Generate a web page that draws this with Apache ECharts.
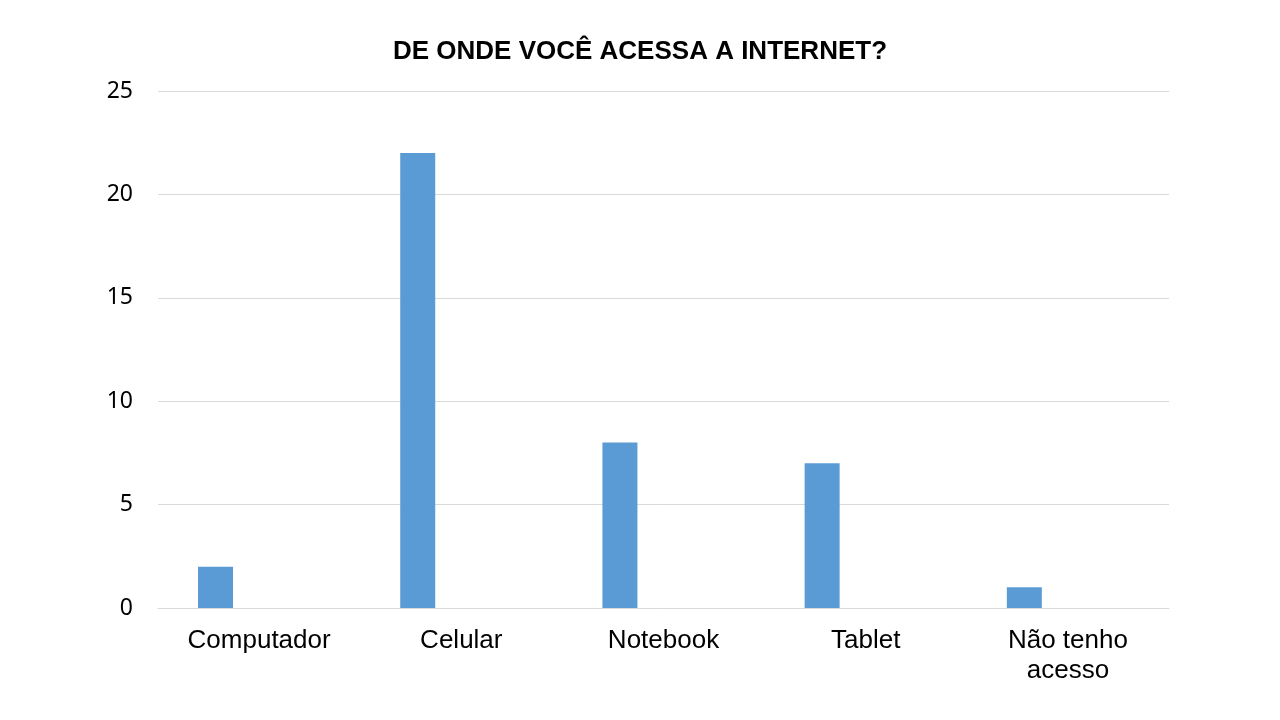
<!DOCTYPE html>
<html>
<head>
<meta charset="utf-8">
<script src="https://cdn.jsdelivr.net/npm/echarts@6/dist/echarts.min.js"></script>
<style>
html,body{margin:0;padding:0;background:#fff;}
#chart{width:1280px;height:720px;}
</style>
</head>
<body>
<div id="chart"></div>
<script>
const titleText = 'DE ONDE VOCÊ ACESSA A INTERNET?';
const categories = ['Computador', 'Celular', 'Notebook', 'Tablet', 'Não tenho\nacesso'];
const values = [2, 22, 8, 7, 1];
const emptySeries = [null, null, null, null, null];
const yTicks = { min: 0, max: 25, interval: 5 };

const chart = echarts.init(document.getElementById('chart'), null, { renderer: 'canvas' });
chart.setOption({
  backgroundColor: '#ffffff',
  animation: false,
  title: {
    text: titleText,
    left: 'center',
    top: 34,
    textStyle: { fontFamily: 'Liberation Sans, Arial, sans-serif', fontWeight: 'bold', fontSize: 26, color: '#000' }
  },
  grid: { left: 158, right: 111, top: 91, bottom: 112, containLabel: false },
  xAxis: {
    type: 'category',
    data: categories,
    axisLine: { show: true, lineStyle: { color: '#d9d9d9', width: 1 } },
    axisTick: { show: false },
    axisLabel: {
      fontFamily: 'Liberation Sans, Arial, sans-serif',
      fontSize: 26,
      color: '#000',
      margin: 18,
      lineHeight: 30,
      interval: 0
    }
  },
  yAxis: {
    type: 'value',
    min: yTicks.min,
    max: yTicks.max,
    interval: yTicks.interval,
    axisLine: { show: false },
    axisTick: { show: false },
    splitLine: { lineStyle: { color: '#d9d9d9', width: 1 } },
    axisLabel: {
      fontFamily: 'Noto Sans, sans-serif',
      fontSize: 23,
      color: '#000',
      margin: 25,
      padding: [3, 0, 0, 0]
    }
  },
  series: [
    {
      name: 'Série 1',
      type: 'bar',
      data: values,
      barWidth: 35,
      barGap: '149%',
      itemStyle: { color: '#5b9bd5' }
    },
    {
      name: 'Série 2',
      type: 'bar',
      data: emptySeries,
      barWidth: 35,
      itemStyle: { color: '#ed7d31' }
    }
  ]
});
</script>
</body>
</html>
